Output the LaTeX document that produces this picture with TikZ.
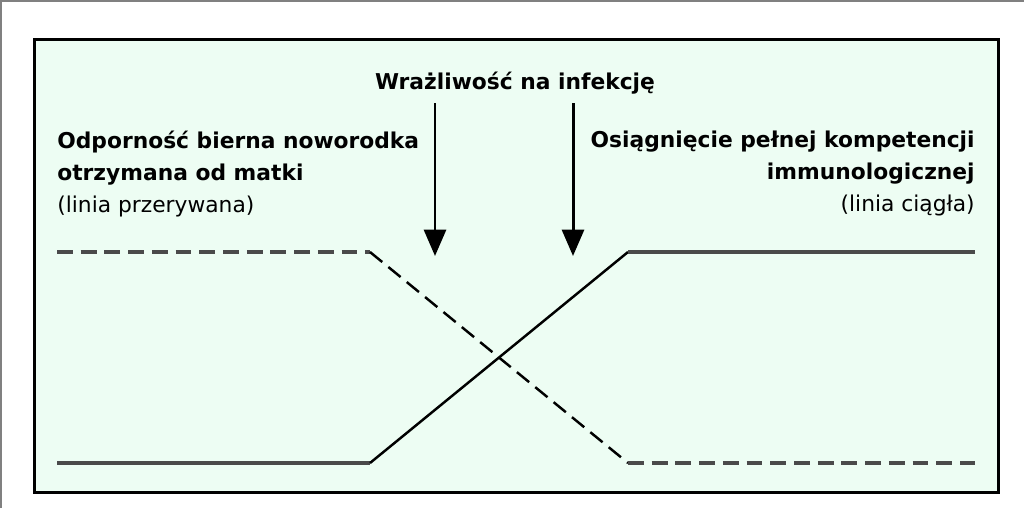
\documentclass[tikz,border=0pt]{standalone}
\usepackage{fontspec}
\setmainfont{DejaVu Sans}
\usetikzlibrary{arrows.meta}
\definecolor{panel}{HTML}{EDFDF3}
\definecolor{flat}{HTML}{4A4A4A}

\begin{document}
\begin{tikzpicture}[x=0.02cm, y=-0.02cm,
    label text/.style={font=\fontsize{12.4}{18}\selectfont, inner sep=0pt},
    pointer/.style={-{Triangle[length=15pt,width=12.5pt]}, line width=1.7pt},
    slope/.style={line width=1.4pt, black},
    level/.style={line width=2pt, flat},
    broken/.style={dash pattern=on 9pt off 4.5pt},
]
\useasboundingbox (0,0) rectangle (1024,508);

% Frame
\draw[gray, line width=0.8pt] (1,508) -- (1,1) -- (1024,1);
\draw[line width=1.7pt, fill=panel] (34.5,39.5) rectangle (998.5,492.5);

% Title
\node[label text, font=\fontsize{12.4}{18}\selectfont\bfseries, anchor=base] (title) at (515,89) {Wrażliwość na infekcję};

% Side labels
\node[label text, align=left, anchor=north west] (passive) at (57,131) {%
    \textbf{Odporność bierna noworodka}\\
    \textbf{otrzymana od matki}\\
    (linia przerywana)};
\node[label text, align=right, anchor=north east] (active) at (975,131) {%
    \textbf{Osiągnięcie pełnej kompetencji}\\
    \textbf{immunologicznej}\\
    (linia ciągła)};

% Arrows
\coordinate (a1) at (435,103);
\coordinate (a1tip) at (435,256);
\coordinate (a2) at (573,103);
\coordinate (a2tip) at (573,256);
\draw[pointer] (a1) -- (a1tip);
\draw[pointer] (a2) -- (a2tip);

% Maternal immunity (dashed)
\coordinate (p1) at (57,252);
\coordinate (p2) at (370,252);
\coordinate (p3) at (628,463);
\coordinate (p4) at (975,463);
\draw[level, broken] (p1) -- (p2);
\draw[slope, broken] (p2) -- (p3);
\draw[level, broken] (p3) -- (p4);

% Own immunity (solid)
\coordinate (q1) at (57,463);
\coordinate (q2) at (370,463);
\coordinate (q3) at (628,252);
\coordinate (q4) at (975,252);
\draw[level] (q1) -- (q2);
\draw[slope] (q2) -- (q3);
\draw[level] (q3) -- (q4);

\end{tikzpicture}
\end{document}
